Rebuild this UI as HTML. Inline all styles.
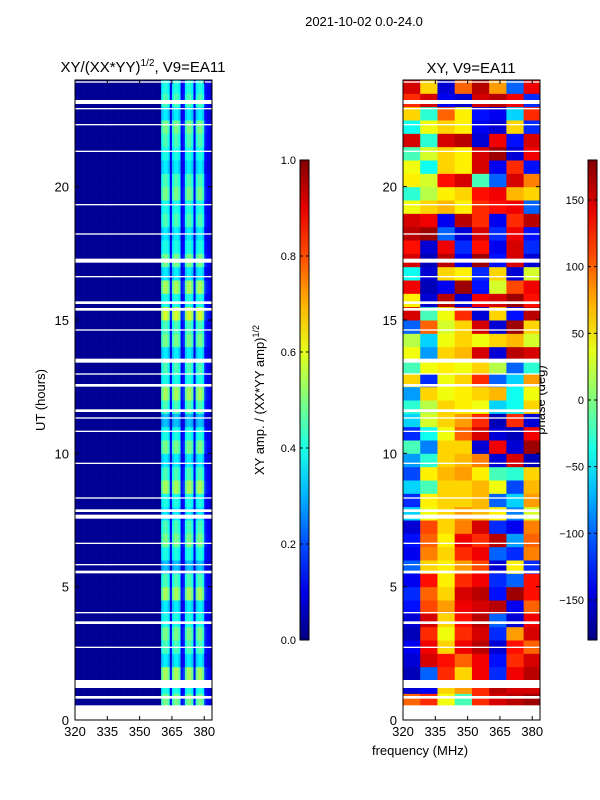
<!DOCTYPE html>
<html><head><meta charset="utf-8">
<style>
body{margin:0;background:#fff;}
svg{display:block;font-family:"Liberation Sans","DejaVu Sans",sans-serif;}
</style></head>
<body>
<svg id="fig" width="600" height="800" viewBox="0 0 600 800">
<text x="364" y="26" font-size="13" text-anchor="middle">2021-10-02 0.0-24.0</text>
<text x="143" y="72" font-size="15" text-anchor="middle">XY/(XX*YY)<tspan font-size="10" dy="-6">1/2</tspan><tspan dy="6">, V9=EA11</tspan></text>
<text x="471" y="73" font-size="15" text-anchor="middle">XY, V9=EA11</text>
<text transform="translate(45,400) rotate(-90)" font-size="13" text-anchor="middle">UT (hours)</text>
<text transform="translate(264,400) rotate(-90)" font-size="13" text-anchor="middle">XY amp. / (XX*YY amp)<tspan font-size="9" dy="-5">1/2</tspan></text>
<text transform="translate(545,400) rotate(-90)" font-size="13" text-anchor="middle">phase (deg)</text>
<text x="420" y="755" font-size="13" text-anchor="middle">frequency (MHz)</text>
<g id="left"></g>
<g id="right"></g>
<g id="cb1"></g>
<g id="cb2"></g>
</svg>
<script>
const xTicks=[320,335,350,365,380];
const yTicks=[0,5,10,15,20];
const ampTicks=[0.0,0.2,0.4,0.6,0.8,1.0];
const phaseTicks=[-150,-100,-50,0,50,100,150];
// amplitude per 1 MHz column 320..383
const ampFreq=[0.02,0.02,0.02,0.02,0.02,0.02,0.02,0.02,0.02,0.02,0.02,0.02,0.02,0.02,0.02,0.02,
0.02,0.02,0.02,0.02,0.02,0.02,0.02,0.02,0.02,0.02,0.02,0.02,0.02,0.02,0.02,0.02,
0.02,0.02,0.02,0.02,0.02,0.02,0.02,0.02,0.4,0.45,0.45,0.4,0.12,0.4,0.45,0.45,
0.4,0.12,0.15,0.4,0.45,0.45,0.4,0.12,0.4,0.45,0.45,0.4,0.15,0.12,0.1,0.08];
// row scaling per half hour 0..24
const ampRowScale=[1,1.1,0.9,1.2,0.8,1.0,1.1,0.9,0.8,1.2,1.0,0.7,0.9,1.1,1.0,0.8,
0.9,1.2,1.0,0.8,1.1,0.9,0.7,1.0,1.2,0.9,1.0,0.8,1.1,1.0,1.3,0.9,
1.2,0.8,1.1,0.9,0.8,1.0,0.9,1.1,1.0,0.8,0.9,1.0,1.1,0.8,1.0,0.9];
const phaseBands=[320,328,336,344,352,360,368,376,384];
const phase=[
[0,0,0,0,0,0,0,0],
[100,120,40,-20,120,150,160,170],
[-150,-140,60,80,120,160,150,150],
[-160,-100,120,60,140,-120,140,160],
[-150,150,130,100,140,-130,120,150],
[-140,140,60,140,160,-150,130,100],
[-160,120,40,120,150,-120,80,150],
[-150,150,60,130,160,-100,-150,140],
[-130,110,80,140,150,160,-140,100],
[-120,100,60,150,160,-130,170,130],
[-140,130,50,120,140,-120,-100,130],
[-100,60,50,80,110,-150,50,-120],
[-140,90,60,120,140,-100,-120,90],
[-130,100,50,140,120,160,-80,100],
[-150,110,60,90,150,-120,-140,90],
[-60,40,60,80,70,50,-90,30],
[-120,50,60,60,70,-100,-60,80],
[-60,-20,60,60,70,40,-110,70],
[-110,50,70,80,50,-20,-30,60],
[-80,-30,60,70,90,-150,150,-160],
[-20,-90,60,60,-150,140,-150,170],
[-120,-40,40,100,150,-150,-160,140],
[-60,30,60,80,120,-160,120,-150],
[-30,20,60,50,40,-60,-40,60],
[-80,60,40,50,60,70,-40,40],
[60,-120,40,60,120,-100,-60,80],
[-20,40,50,40,60,20,-100,-30],
[40,-80,60,70,150,-150,160,150],
[20,-60,40,60,40,60,70,30],
[-100,100,30,60,150,-150,170,60],
[150,-20,40,120,-150,60,-130,160],
[50,-150,160,-150,140,150,170,130],
[140,-160,-140,170,-130,30,110,140],
[-40,-150,60,50,-120,60,-150,30],
[150,-160,160,-140,170,-130,150,-150],
[130,-150,140,-120,130,-140,150,-120],
[160,170,-100,-150,150,-120,140,-130],
[150,140,-140,160,120,-140,120,160],
[40,60,70,50,120,130,140,-100],
[-30,20,50,60,130,140,70,60],
[50,30,130,150,-20,-100,150,90],
[40,-40,60,50,150,-140,120,-130],
[-20,30,60,50,150,170,-150,140],
[150,-30,150,160,-150,140,-130,150],
[-40,40,60,50,-140,-150,60,-120],
[60,-30,100,50,-130,-140,-60,120],
[120,150,-140,-150,150,160,140,-120],
[150,60,-150,100,160,80,-100,140]];
const flags=[[0,0.55],[0.8,0.9],[1.2,1.5],[2.7,2.75],[3.6,3.7],[4.0,4.05],[5.5,5.6],[5.8,5.85],[6.6,6.65],[7.55,7.7],[7.8,7.9],[8.3,8.35],[9.6,9.65],[10.8,10.85],[11.3,11.35],[11.55,11.65],[12.5,12.6],[12.95,13.0],[13.4,13.55],[14.6,14.65],[15.35,15.45],[15.6,15.7],[16.6,16.65],[17.15,17.3],[18.2,18.25],[19.3,19.35],[21.3,21.35],[22.3,22.35],[22.9,22.95],[23.1,23.25],[23.9,23.95]];

const NS='http://www.w3.org/2000/svg';
function jet(v){v=Math.max(0,Math.min(1,v));
 const r=Math.max(0,Math.min(1,Math.min(4*v-1.5,-4*v+4.5)));
 const g=Math.max(0,Math.min(1,Math.min(4*v-0.5,-4*v+3.5)));
 const b=Math.max(0,Math.min(1,Math.min(4*v+0.5,-4*v+2.5)));
 return `rgb(${Math.round(r*255)},${Math.round(g*255)},${Math.round(b*255)})`;}
function mk(tag,attrs,parent){const e=document.createElementNS(NS,tag);for(const k in attrs)e.setAttribute(k,attrs[k]);parent.appendChild(e);return e;}
const F0=320,F1=383.6,H1=24,PT=80,PB=720;
function yScale(h){return PB-(h/H1)*(PB-PT);}
function panel(g,x0,x1,drawCells){
 const xs=f=>x0+(f-F0)/(F1-F0)*(x1-x0);
 drawCells(xs);
 for(const fl of flags){const r=mk('rect',{x:x0,y:yScale(fl[1]),width:x1-x0,height:yScale(fl[0])-yScale(fl[1]),fill:'#fff'},g);
 
 }
 const fr=mk('rect',{x:x0,y:PT,width:x1-x0,height:PB-PT,fill:'none',stroke:'#000','stroke-width':1},g);
 
 
 for(const t of xTicks){const x=xs(t);
  mk('line',{x1:x,x2:x,y1:PB,y2:PB-4,stroke:'#000'},g);mk('line',{x1:x,x2:x,y1:PT,y2:PT+4,stroke:'#000'},g);
  const tx=mk('text',{x:x,y:PB+16,'font-size':13,'text-anchor':'middle'},g);tx.textContent=t;
  
  }
 for(const t of yTicks){const y=yScale(t);
  mk('line',{x1:x0,x2:x0+4,y1:y,y2:y,stroke:'#000'},g);mk('line',{x1:x1,x2:x1-4,y1:y,y2:y,stroke:'#000'},g);
  const tx=mk('text',{x:x0-6,y:y+5,'font-size':13,'text-anchor':'end'},g);tx.textContent=t;
  
  }
}
panel(document.getElementById('left'),75,212,xs=>{
 const g=document.getElementById('left');
 for(let r=0;r<ampRowScale.length;r++)for(let c=0;c<ampFreq.length;c++){
  const v=ampFreq[c]>0.06?ampFreq[c]*ampRowScale[r]:ampFreq[c];
  const rc=mk('rect',{x:xs(F0+c),y:yScale((r+1)/2),width:Math.min(xs(F0+c+1),212)-xs(F0+c)+0.3,height:yScale(r/2)-yScale((r+1)/2)+0.5,fill:jet(v)},g);
  
  }
});
panel(document.getElementById('right'),403,540,xs=>{
 const g=document.getElementById('right');
 for(let r=0;r<phase.length;r++)for(let c=0;c<phaseBands.length-1;c++){
  const v=(phase[r][c]+180)/360;
  const rc=mk('rect',{x:xs(phaseBands[c]),y:yScale((r+1)/2),width:Math.min(xs(phaseBands[c+1]),540)-xs(phaseBands[c])+0.5,height:yScale(r/2)-yScale((r+1)/2)+0.5,fill:jet(v)},g);
  
  }
});
function colorbar(g,x,lo,hi,ticks,fmt){
 const id='grad'+x;const defs=mk('defs',{},g);
 const lg=mk('linearGradient',{id:id,x1:0,y1:1,x2:0,y2:0},defs);
 for(let i=0;i<=10;i++)mk('stop',{offset:i/10,'stop-color':jet(i/10)},lg);
 const r=mk('rect',{x:x,y:160,width:9,height:480,fill:`url(#${id})`,stroke:'#000'},g);
 
 
 for(const t of ticks){const y=640-(t-lo)/(hi-lo)*480;
  mk('line',{x1:x,x2:x+3,y1:y,y2:y,stroke:'#000'},g);mk('line',{x1:x+9,x2:x+6,y1:y,y2:y,stroke:'#000'},g);
  const tx=mk('text',{x:x-4,y:y+4,'font-size':11,'text-anchor':'end'},g);tx.textContent=fmt(t);
  
  }
}
colorbar(document.getElementById('cb1'),300,0,1,ampTicks,t=>t.toFixed(1));
colorbar(document.getElementById('cb2'),588,-180,180,phaseTicks,t=>t<0?'\u2212'+(-t):String(t));
</script>
</body></html>
